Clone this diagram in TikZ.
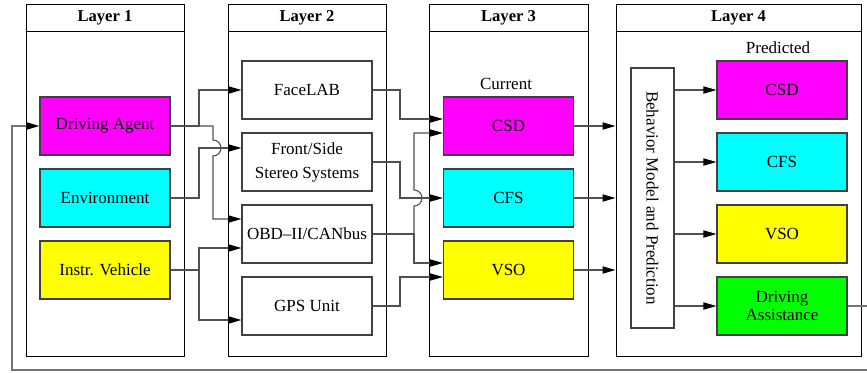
\documentclass[tikz,border=0pt]{standalone}
\usepackage{fontspec}
\setmainfont{Liberation Serif}
\usetikzlibrary{arrows.meta,calc}
\definecolor{csdcol}{RGB}{255,0,255}
\definecolor{cfscol}{RGB}{0,255,255}
\definecolor{vsocol}{RGB}{255,255,0}
\definecolor{dacol}{RGB}{0,255,0}
\definecolor{wire}{RGB}{80,80,80}
\tikzset{
  panel/.style={draw=black, line width=0.5pt, minimum width=#1, minimum height=176pt, inner sep=0pt},
  title/.style={font=\bfseries\fontsize{8.3}{10}\selectfont},
  blk/.style={draw=black!75, line width=0.55pt, minimum width=65pt, minimum height=29pt, inner sep=1pt, align=center, font=\fontsize{8.5}{10}\selectfont},
  caption/.style={font=\fontsize{8.5}{10}\selectfont, inner sep=0pt},
  conn/.style={draw=wire, line width=0.55pt},
  arr/.style={conn, -{Triangle[length=6.5pt, width=3.6pt, color=black]}},
  feedback/.style={draw=black!55, line width=0.8pt, -{Triangle[length=6.5pt, width=3.6pt, color=black]}},
}
\begin{document}
\begin{tikzpicture}[x=0.5pt, y=-0.5pt]
\useasboundingbox (0,0) rectangle (867,372);
\clip (0,0) rectangle (867,372);

% layer panels with their title rows
\node[panel=79pt]  (L1) at (105,180) {};
\node[panel=79pt]  (L2) at (307,180) {};
\node[panel=79.5pt](L3) at (508.5,180) {};
\node[panel=122.5pt](L4) at (738.5,180) {};
\foreach \p in {L1,L2,L3,L4}
  \draw[line width=0.5pt] ($(\p.north west)+(0,28)$) -- ($(\p.north east)+(0,28)$);
\node[title] (t1) at (105,18) {Layer 1};
\node[title] (t2) at (307,18) {Layer 2};
\node[title] (t3) at (508.5,18) {Layer 3};
\node[title] (t4) at (738.5,18) {Layer 4};

% layer 1
\node[blk, fill=csdcol] (da)  at (105,126) {Driving Agent};
\node[blk, fill=cfscol] (env) at (105,198) {Environment};
\node[blk, fill=vsocol] (iv)  at (105,270) {Instr. Vehicle};

% layer 2
\node[blk] (fl)  at (307,90)  {FaceLAB};
\node[blk] (fs)  at (307,162) {Front/Side\\[2pt]Stereo Systems};
\node[blk] (obd) at (307,234) {OBD--II/CANbus};
\node[blk] (gps) at (307,306) {GPS Unit};

% layer 3
\node[caption] (cur) at (506,84) {Current};
\node[blk, fill=csdcol] (csd) at (508.5,126) {CSD};
\node[blk, fill=cfscol] (cfs) at (508.5,198) {CFS};
\node[blk, fill=vsocol] (vso) at (508.5,270) {VSO};

% layer 4: the vertical model box (text runs top to bottom)
\node[caption] (pred) at (778,48) {Predicted};
\node[draw=black!75, line width=0.55pt, minimum width=130pt, minimum height=21.5pt, inner sep=0pt,
      rotate=-90, font=\fontsize{8.5}{10}\selectfont] (bm) at (652.5,198) {Behavior Model and Prediction};
\node[blk, fill=csdcol] (pcsd) at (782,90)  {CSD};
\node[blk, fill=cfscol] (pcfs) at (782,162) {CFS};
\node[blk, fill=vsocol] (pvso) at (782,234) {VSO};
\node[blk, fill=dacol]  (pda)  at (782,306) {Driving\\[-1pt]Assistance};

% bus positions and entry points
\coordinate (b1) at (199,0);
\coordinate (b2) at (213,0);
\coordinate (b3) at (400,0);
\coordinate (b4) at (414,0);
\coordinate (fsin)  at ($(fs.west)+(0,-14)$);
\coordinate (obdin1) at ($(obd.west)+(0,-15)$);
\coordinate (obdin2) at ($(obd.west)+(0,14)$);
\coordinate (gpsin) at ($(gps.west)+(0,14)$);
\coordinate (csdin1) at ($(csd.west)+(0,-7)$);
\coordinate (csdin2) at ($(csd.west)+(0,7)$);
\coordinate (vsoin1) at ($(vso.west)+(0,-7)$);
\coordinate (vsoin2) at ($(vso.west)+(0,7)$);

% layer 1 -> layer 2
\draw[arr] (da.east) -| (b1 |- fl.west) -- (fl.west);
\draw[arr] (da.east) -- (b2 |- da.east) -- ($(b2 |- fsin)+(0,-8)$)
  arc[start angle=90, end angle=-90, radius=4pt] -- (b2 |- obdin1) -- (obdin1);
\draw[arr] (env.east) -| (b1 |- fsin) -- (fsin);
\draw[arr] (iv.east) -| (b1 |- obdin2) -- (obdin2);
\draw[arr] (iv.east) -| (b1 |- gpsin) -- (gpsin);

% layer 2 -> layer 3
\draw[arr] (fl.east) -| (b3 |- csdin1) -- (csdin1);
\draw[arr] (fs.east) -| (b3 |- cfs.west) -- (cfs.west);
\draw[arr] (obd.east) -- (b4 |- obd.east) -- ($(b4 |- cfs.west)+(0,8)$)
  arc[start angle=-90, end angle=90, radius=4pt] -- (b4 |- csdin2) -- (csdin2);
\draw[arr] (obd.east) -| (b4 |- vsoin1) -- (vsoin1);
\draw[arr] (gps.east) -| (b3 |- vsoin2) -- (vsoin2);

% layer 3 -> layer 4
\draw[arr] (csd.east) -- (L4.west |- csd.east);
\draw[arr] (cfs.east) -- (L4.west |- cfs.east);
\draw[arr] (vso.east) -- (L4.west |- vso.east);

% behavior model -> predicted states
\draw[arr] (bm.north |- pcsd.west) -- (pcsd.west);
\draw[arr] (bm.north |- pcfs.west) -- (pcfs.west);
\draw[arr] (bm.north |- pvso.west) -- (pvso.west);
\draw[arr] (bm.north |- pda.west) -- (pda.west);

% feedback loop back to the driving agent
\coordinate (fbR) at (875,370);
\coordinate (fbL) at (12,370);
\draw[feedback] (pda.east) -| (fbR) -- (fbL) |- (da.west);
\end{tikzpicture}
\end{document}
